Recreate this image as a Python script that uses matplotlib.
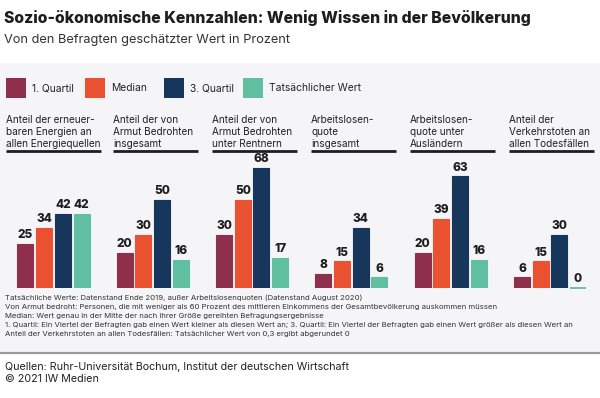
import matplotlib
matplotlib.use("Agg")
import matplotlib.pyplot as plt
from matplotlib.patches import Rectangle
from matplotlib.lines import Line2D

# ---------------- data ----------------
categories = [
    "Anteil der erneuer-\nbaren Energien an\nallen Energiequellen",
    "Anteil der von\nArmut Bedrohten\ninsgesamt",
    "Anteil der von\nArmut Bedrohten\nunter Rentnern",
    "Arbeitslosen-\nquote\ninsgesamt",
    "Arbeitslosen-\nquote unter\nAusländern",
    "Anteil der\nVerkehrstoten an\nallen Todesfällen",
]
series_names = ["1. Quartil", "Median", "3. Quartil", "Tatsächlicher Wert"]
q1 = [25, 20, 30, 8, 20, 6]
median = [34, 30, 50, 15, 39, 15]
q3 = [42, 50, 68, 34, 63, 30]
actual = [42, 16, 17, 6, 16, 0]
series_values = [q1, median, q3, actual]
colors = ["#8E2F4C", "#EA5130", "#17365C", "#5FBF9F"]

title = "Sozio-ökonomische Kennzahlen: Wenig Wissen in der Bevölkerung"
subtitle = "Von den Befragten geschätzter Wert in Prozent"
footnotes = [
    "Tatsächliche Werte: Datenstand Ende 2019, außer Arbeitslosenquoten (Datenstand August 2020)",
    "Von Armut bedroht: Personen, die mit weniger als 60 Prozent des mittleren Einkommens der Gesamtbevölkerung auskommen müssen",
    "Median: Wert genau in der Mitte der nach ihrer Größe gereihten Befragungsergebnisse",
    "1. Quartil: Ein Viertel der Befragten gab einen Wert kleiner als diesen Wert an; 3. Quartil: Ein Viertel der Befragten gab einen Wert größer als diesen Wert an",
    "Anteil der Verkehrstoten an allen Todesfällen: Tatsächlicher Wert von 0,3 ergibt abgerundet 0",
]
source = "Quellen: Ruhr-Universität Bochum, Institut der deutschen Wirtschaft\n© 2021 IW Medien"

# ---------------- layout ----------------
W, H = 600, 398
plt.rcParams['font.family'] = ['Inter', 'DejaVu Sans']
fig = plt.figure(figsize=(W / 100, H / 100), dpi=100)
fig.patch.set_facecolor("white")

def fx(px):
    return px / W

def fy(py):
    return 1 - py / H

# background panel
fig.patches.append(Rectangle((0, fy(352)), 1, fy(63) - fy(352), transform=fig.transFigure,
                             facecolor="#F5F4F7", edgecolor="none", zorder=-10))
fig.lines.append(Line2D([0, 1], [fy(353), fy(353)], transform=fig.transFigure,
                        color="#9A9A9A", lw=1.6))

fig.text(fx(4), fy(18), title, fontsize=11.4, fontweight="heavy", color="#1E1E1E", va="center")
fig.text(fx(4), fy(40), subtitle, fontsize=9.2, color="#333333", va="center")

# legend
leg_x = [6, 85, 164, 243]
for x0, name, c in zip(leg_x, series_names, colors):
    fig.patches.append(Rectangle((fx(x0), fy(98)), fx(20), fy(78) - fy(98), transform=fig.transFigure,
                                 facecolor=c, edgecolor="none"))
    fig.text(fx(x0 + 26), fy(88), name, fontsize=7.4, color="#222222", va="center")

# bars axes: baseline at y=288 px, 1 unit = 1.77 px
base_px = 288
unit_px = 1.77
ymax = 80
top_px = base_px - ymax * unit_px
ax = fig.add_axes([0, fy(base_px), 1, (base_px - top_px) / H])
ax.set_zorder(5)
ax.set_facecolor("none")
spacing = 99.3
c0 = 53.5
ax.set_xlim(-c0 / spacing, (W - c0) / spacing)
ax.set_ylim(0, ymax)
ax.axis("off")

bw = 16 / spacing
step = 18.67 / spacing
n = len(categories)
for k, (vals, c) in enumerate(zip(series_values, colors)):
    xs = [i + (k - 1.5) * step for i in range(n)]
    ax.bar(xs, vals, width=bw, color=c, edgecolor=c, linewidth=0.8)
    for x, v in zip(xs, vals):
        if v == 0:
            # zero-height bar shown as a thin line on the baseline
            ax.plot([x - bw / 2, x + bw / 2], [v, v], color=c, lw=1.3,
                    solid_capstyle="butt", clip_on=False)
        ax.annotate(str(v), (x, v), xytext=(0, 2), textcoords="offset points",
                    ha="center", va="bottom", fontsize=8.5, fontweight="heavy", color="#1E1E1E")

# category headings with underline
head_x0 = [6, 113, 212, 311, 410, 509]
head_x1 = [101, 198, 297, 396, 495, 594]
for x0, x1, lab in zip(head_x0, head_x1, categories):
    fig.text(fx(x0), fy(115), lab, fontsize=7.2, color="#222222", va="top", ha="left",
             linespacing=1.25)
    fig.lines.append(Line2D([fx(x0), fx(x1)], [fy(151), fy(151)], transform=fig.transFigure,
                            color="#1E1E1E", lw=2.0, solid_capstyle="butt"))

# footnotes
for j, line in enumerate(footnotes):
    fig.text(fx(5), fy(298 + j * 8.9), line, fontsize=5.6, color="#333333", va="center")

fig.text(fx(5), fy(362), source, fontsize=7.7, color="#222222", va="top", linespacing=1.3)

fig.savefig("out.png", dpi=100, facecolor="white")
